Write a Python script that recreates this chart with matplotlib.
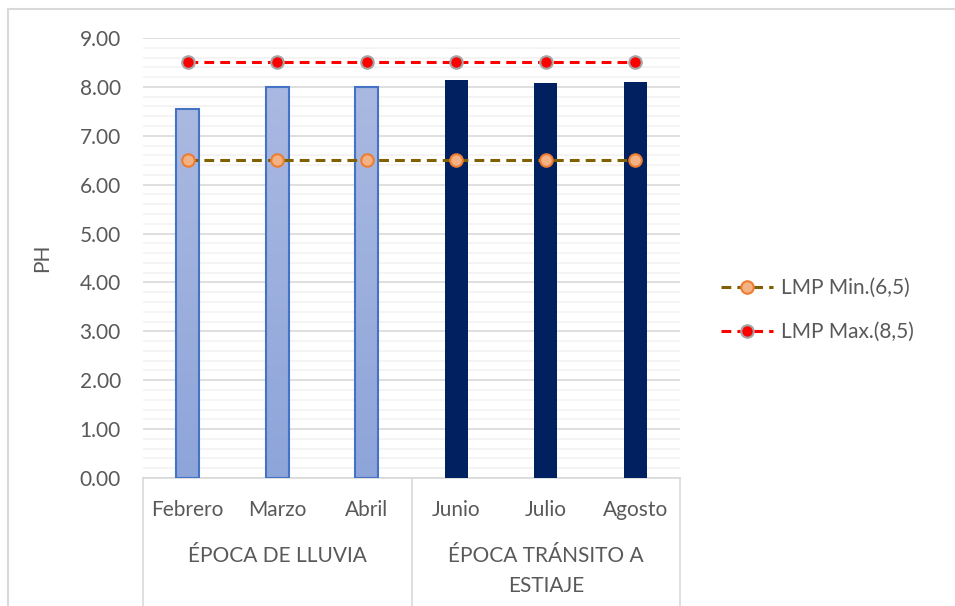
import matplotlib.pyplot as plt
import numpy as np
from matplotlib.lines import Line2D
from matplotlib.patches import Rectangle

plt.rcParams['font.family'] = ['Lato', 'DejaVu Sans']
plt.rcParams['font.size'] = 15

# datos de pH por mes
meses = ["Febrero", "Marzo", "Abril", "Junio", "Julio", "Agosto"]
epocas = ["ÉPOCA DE LLUVIA", "ÉPOCA TRÁNSITO A\nESTIAJE"]
ph = [7.55, 8.00, 8.00, 8.14, 8.08, 8.10]
lmp_min = [6.5, 6.5, 6.5, 6.5, 6.5, 6.5]
lmp_max = [8.5, 8.5, 8.5, 8.5, 8.5, 8.5]

gris = "#595959"

fig = plt.figure(figsize=(9.55, 6.06), dpi=100)
ax = fig.add_axes([143 / 955, 1 - 478 / 606, 537 / 955, 440 / 606])

# borde del área del gráfico
fig.patches.append(Rectangle((8 / 955, -0.1), 1.2, 1 - 9 / 606 + 0.1, transform=fig.transFigure,
                             fill=False, edgecolor="#D9D9D9", lw=1.5))

x = np.arange(len(meses))
ancho = 0.26

# época de lluvia: barras con degradado
grad = np.linspace(0, 1, 256).reshape(-1, 1)
cmap = plt.matplotlib.colors.LinearSegmentedColormap.from_list("az", ["#8EA5DA", "#AAB9E1"])
for i in range(3):
    barra = ax.bar(x[i], ph[i], width=ancho, facecolor="none", edgecolor="#4472C4", lw=1.5, zorder=3)[0]
    img = ax.imshow(grad, cmap=cmap, origin="lower", aspect="auto",
                    extent=(x[i] - ancho / 2, x[i] + ancho / 2, 0, ph[i]), zorder=2)
    img.set_clip_path(barra)

# época tránsito a estiaje
ax.bar(x[3:], ph[3:], width=ancho, color="#002060", zorder=3)

ax.plot(x, lmp_min, ls=(0, (3.2, 2)), lw=2.2, color="#806000", marker="o", ms=9,
        mfc="#F4B183", mec="#ED7D31", mew=1.5, zorder=4, label="LMP Min.(6,5)")
ax.plot(x, lmp_max, ls=(0, (3.2, 2)), lw=2.2, color="#FF0000", marker="o", ms=9,
        mfc="#FF0000", mec="#A5A5A5", mew=1.5, zorder=4, label="LMP Max.(8,5)")

ax.set_xlim(-0.5, 5.5)
ax.set_ylim(0, 9)
ax.set_yticks(np.arange(0, 9.01, 1))
ax.set_yticks(np.arange(0, 9.01, 0.2), minor=True)
ax.set_yticklabels([f"{v:.2f}" for v in np.arange(0, 9.01, 1)])
ax.grid(axis="y", which="major", color="#D9D9D9", lw=1.2, zorder=0)
ax.grid(axis="y", which="minor", color="#F2F2F2", lw=1.2, zorder=0)
ax.set_axisbelow(True)
ax.tick_params(axis="y", which="both", length=0, colors=gris, pad=16)
ax.set_xticks([])
for s in ["top", "right", "left"]:
    ax.spines[s].set_visible(False)
ax.spines["bottom"].set_color("#D9D9D9")
ax.spines["bottom"].set_linewidth(1.2)

ax.set_ylabel("PH", color=gris, fontsize=15, labelpad=20)

# ejes de categorías en dos niveles
tr = ax.get_xaxis_transform()
for i, m in enumerate(meses):
    ax.text(x[i], -0.073, m, transform=tr, ha="center", va="center", color=gris)
for xb in [-0.5, 2.5, 5.5]:
    ax.add_line(Line2D([xb, xb], [0, -0.3], transform=tr, color="#D9D9D9", lw=1.2, clip_on=False))
ax.text(1, -0.177, epocas[0], transform=tr, ha="center", va="center", color=gris)
ax.text(4, -0.155, epocas[1], transform=tr, ha="center", va="top", color=gris,
        linespacing=1.6)

fig.legend(loc="center left", bbox_to_anchor=(702 / 955, 1 - 310 / 606), frameon=False,
           handlelength=2.5, labelcolor=gris, labelspacing=1.15, handletextpad=0.4, fontsize=15)

fig.savefig("out.png", dpi=100)
